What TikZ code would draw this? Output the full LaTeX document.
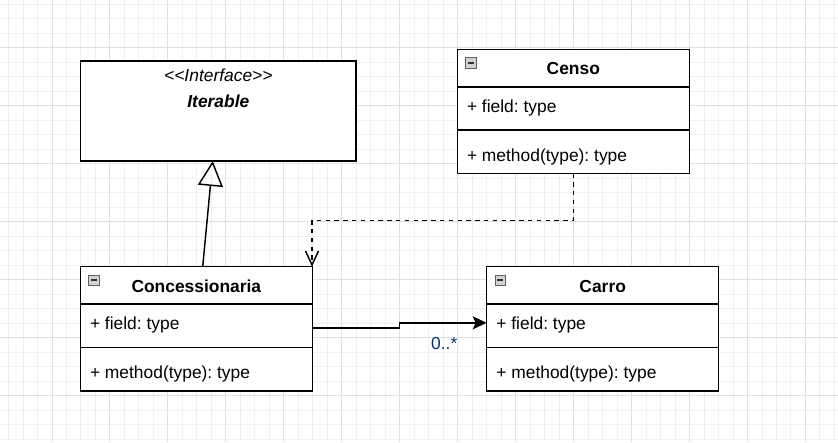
\documentclass[tikz,border=0pt]{standalone}
\usepackage{fontspec}
\setmainfont{Liberation Sans}
\usetikzlibrary{arrows.meta}
\definecolor{gridminor}{HTML}{F0F0F0}
\definecolor{gridmajor}{HTML}{E0E0E0}
\definecolor{lblue}{HTML}{003366}
\frenchspacing
\begin{document}
\begin{tikzpicture}[x=1pt,y=-1pt,
  cls/.style={draw, line width=1.45pt, minimum width=232pt, anchor=north west, inner sep=0pt, outer sep=0pt, fill=white},
  hdr/.style={cls, minimum height=37.5pt},
  part/.style={cls, minimum height=43.3pt},
  txt/.style={inner sep=0pt, font=\fontsize{17.4}{20}\selectfont},
  ttl/.style={inner sep=0pt, font=\fontsize{17.4}{20}\selectfont\bfseries},
  mini/.style={draw=gray!75!black, line width=0.8pt, minimum size=10.5pt, inner sep=0pt, outer sep=0pt, anchor=north west, fill=gray!35,
    path picture={\draw[line width=1.8pt,black!80] ([xshift=-3pt]path picture bounding box.center) -- ([xshift=3pt]path picture bounding box.center);}},
  conn/.style={line width=1.45pt},
]
\useasboundingbox (0,0) rectangle (838,442);
\fill[white] (0,0) rectangle (838,442);
% grid
\foreach \k in {0,...,57} {
  \pgfmathsetmacro\xx{8.53+14.49*\k}
  \draw[gridminor, line width=1pt] (\xx,0) -- (\xx,442);
}
\foreach \k in {0,...,30} {
  \pgfmathsetmacro\yy{4.5+14.49*\k}
  \draw[gridminor, line width=1pt] (0,\yy) -- (838,\yy);
}
\foreach \k in {3,7,...,55} {
  \pgfmathsetmacro\xx{8.53+14.49*\k}
  \draw[gridmajor, line width=1pt] (\xx,0) -- (\xx,442);
}
\foreach \k in {3,7,...,27} {
  \pgfmathsetmacro\yy{4.5+14.49*\k}
  \draw[gridmajor, line width=1pt] (0,\yy) -- (838,\yy);
}

% Iterable interface
\node[cls, minimum width=275.3pt, minimum height=100pt] (iface) at (80.7,61) {};
\node[inner sep=0pt, anchor=base, font=\fontsize{17.4}{20}\selectfont\itshape] (ifaceS) at ([yshift=-20.7pt]iface.north) {{<}{<}Interface{>}{>}};
\node[inner sep=0pt, anchor=base, font=\fontsize{17.4}{20}\selectfont\bfseries\itshape] (ifaceT) at ([yshift=-46.7pt]iface.north) {Iterable};

% Censo
\node[hdr] (censoH) at (457.3,49.3) {};
\node[part] (censoF) at (censoH.south west) {};
\node[part] (censoM) at (censoF.south west) {};
\node[ttl, anchor=base] (censoT) at ([yshift=-25.3pt]censoH.north) {Censo};
\node[txt, anchor=base west] (censoFT) at ([xshift=9.5pt,yshift=-25.5pt]censoF.north west) {+ field: type};
\node[txt, anchor=base west] (censoMT) at ([xshift=9.5pt,yshift=-31.2pt]censoM.north west) {+ method(type): type};
\node[mini] (censoI) at ([xshift=8.4pt,yshift=-8.4pt]censoH.north west) {};

% Concessionaria
\node[hdr] (concH) at (80.3,266.7) {};
\node[part] (concF) at (concH.south west) {};
\node[part] (concM) at (concF.south west) {};
\node[ttl, anchor=base] (concT) at ([yshift=-25.3pt]concH.north) {Concessionaria};
\node[txt, anchor=base west] (concFT) at ([xshift=9.5pt,yshift=-25.5pt]concF.north west) {+ field: type};
\node[txt, anchor=base west] (concMT) at ([xshift=9.5pt,yshift=-31.2pt]concM.north west) {+ method(type): type};
\node[mini] (concI) at ([xshift=8.4pt,yshift=-8.4pt]concH.north west) {};

% Carro
\node[hdr] (carroH) at (486.7,266.7) {};
\node[part] (carroF) at (carroH.south west) {};
\node[part] (carroM) at (carroF.south west) {};
\node[ttl, anchor=base] (carroT) at ([yshift=-25.3pt]carroH.north) {Carro};
\node[txt, anchor=base west] (carroFT) at ([xshift=9.5pt,yshift=-25.5pt]carroF.north west) {+ field: type};
\node[txt, anchor=base west] (carroMT) at ([xshift=9.5pt,yshift=-31.2pt]carroM.north west) {+ method(type): type};
\node[mini] (carroI) at ([xshift=8.4pt,yshift=-8.4pt]carroH.north west) {};

% generalization
\draw[conn, -{Triangle[open, length=25pt, width=25pt]}] ([xshift=122.4pt]concH.north west) -- ([xshift=-5.6pt]iface.south);
% dependency
\draw[conn, dash pattern=on 4.4pt off 4.4pt, -{Straight Barb[length=14pt, width=13pt]}] (censoM.south) -- ++(0,47) -| ([xshift=-0.3pt]concH.north east);
% association
\draw[conn, -{Stealth[length=14pt, width=13pt, inset=3pt]}] ([yshift=-2.3pt]concF.east) -- ++(87,0) |- ([yshift=3pt]carroF.west);
\node[txt, text=lblue, anchor=base west] (mult) at (431,349) {0..*};
\end{tikzpicture}
\end{document}
